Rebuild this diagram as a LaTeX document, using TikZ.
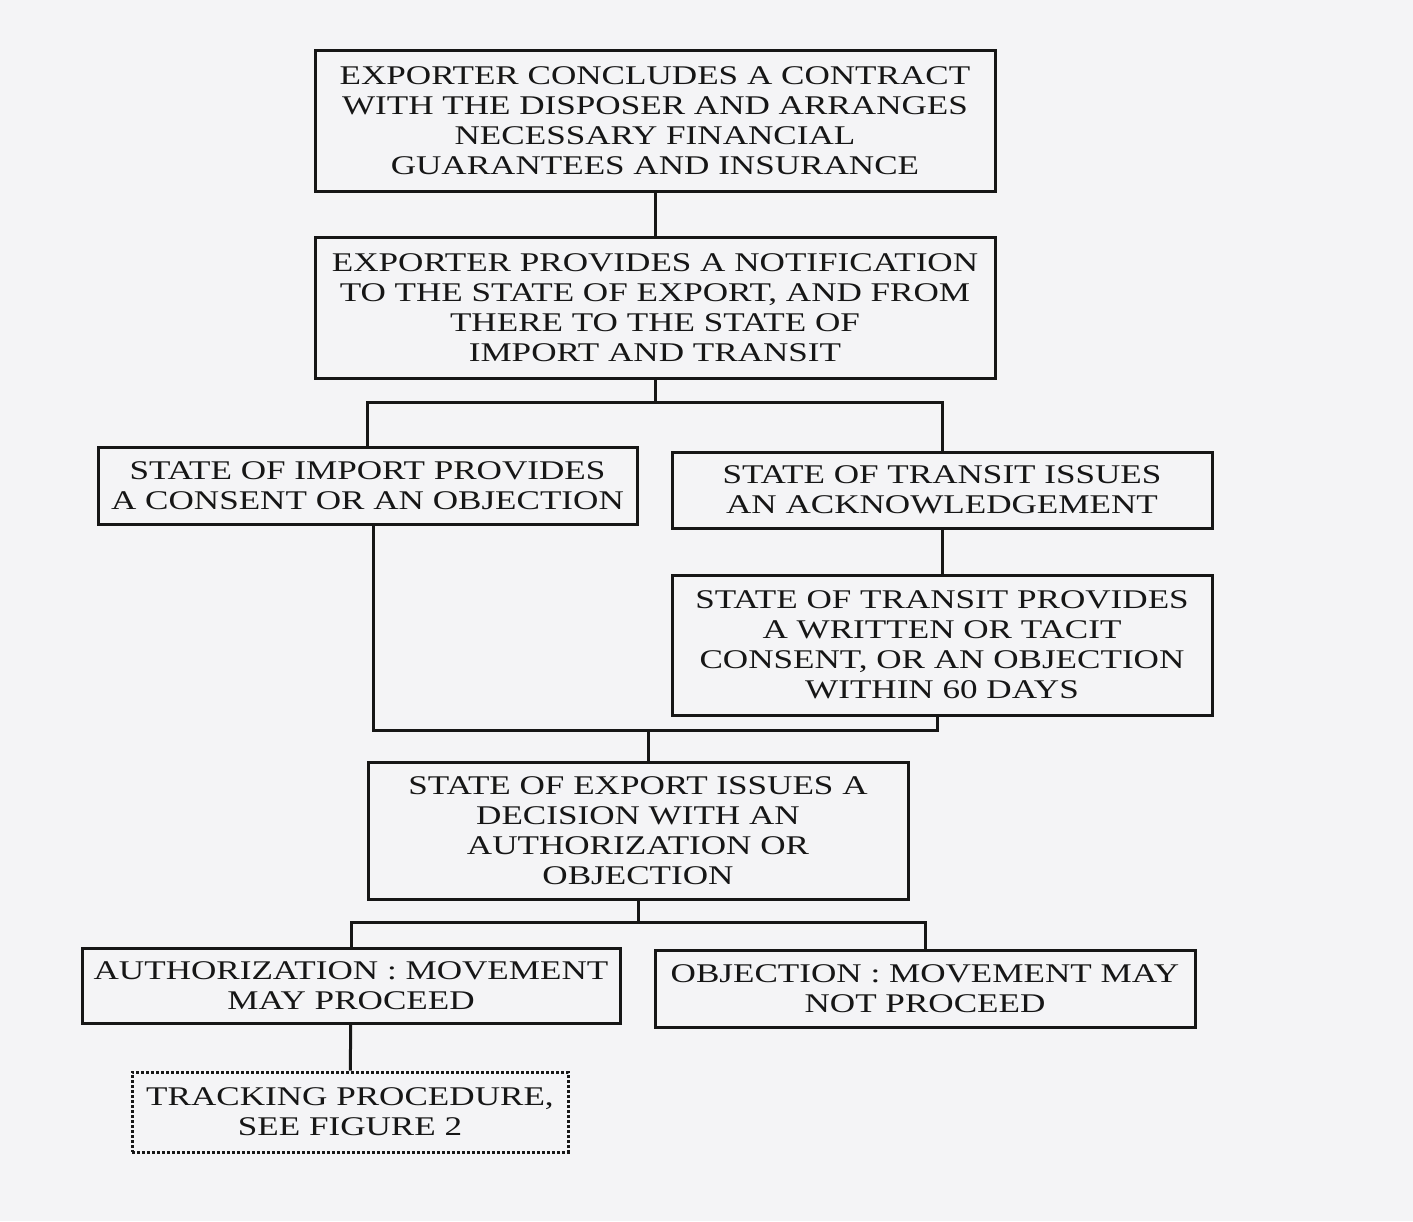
\documentclass[tikz,border=0pt]{standalone}
\usepackage{fontspec}
\setmainfont{Liberation Serif}[FakeStretch=1.3]
\definecolor{scanpaper}{RGB}{244,244,246}
\definecolor{scanink}{RGB}{22,22,22}
\begin{document}
\begin{tikzpicture}[x=0.5pt,y=-0.5pt]
                    \tikzset{every node/.style={font=\fontsize{13.5}{15}\selectfont, text=scanink}}
                    \tikzset{flowbox/.style={draw=scanink, line width=1.5pt, align=center, inner sep=0pt}}
                    \tikzset{flowline/.style={draw=scanink, line width=1.5pt}}
                    \fill[scanpaper] (0,0) rectangle (1413,1221);
                    \useasboundingbox (0,0) rectangle (1413,1221);
                    \node[flowbox, minimum width=340pt, minimum height=70.5pt] (contract) at (655,120.5)
                        {EXPORTER CONCLUDES A CONTRACT\\WITH THE DISPOSER AND ARRANGES\\NECESSARY FINANCIAL\\GUARANTEES AND INSURANCE};
                    \node[flowbox, minimum width=340pt, minimum height=70.5pt] (notify) at (655,307.5)
                        {EXPORTER PROVIDES A NOTIFICATION\\TO THE STATE OF EXPORT, AND FROM\\THERE TO THE STATE OF\\IMPORT AND TRANSIT};
                    \node[flowbox, minimum width=269.5pt, minimum height=38.5pt] (import) at (367.5,485.5)
                        {STATE OF IMPORT PROVIDES\\A CONSENT OR AN OBJECTION};
                    \node[flowbox, minimum width=270pt, minimum height=38pt] (transitack) at (942,490)
                        {STATE OF TRANSIT ISSUES\\AN ACKNOWLEDGEMENT};
                    \node[flowbox, minimum width=270pt, minimum height=70pt] (transitok) at (942,645)
                        {STATE OF TRANSIT PROVIDES\\A WRITTEN OR TACIT\\CONSENT, OR AN OBJECTION\\WITHIN 60 DAYS};
                    \node[flowbox, minimum width=270pt, minimum height=68.5pt] (decision) at (638,830.5)
                        {STATE OF EXPORT ISSUES A\\DECISION WITH AN\\AUTHORIZATION OR\\OBJECTION};
                    \node[flowbox, minimum width=269pt, minimum height=37.5pt] (authorize) at (351,985.5)
                        {AUTHORIZATION : MOVEMENT\\MAY PROCEED};
                    \node[flowbox, minimum width=270pt, minimum height=38.5pt] (object) at (925,988.5)
                        {OBJECTION : MOVEMENT MAY\\NOT PROCEED};
                    \node[flowbox, densely dotted, line width=1.5pt, minimum width=218pt, minimum height=40pt] (tracking) at (350,1112)
                        {TRACKING PROCEDURE,\\SEE FIGURE 2};
                    % joins
                    \coordinate (split) at (655,402);
                    \coordinate (merge) at (648,730);
                    \coordinate (result) at (638,922);
                    \draw[flowline] (contract) -- (notify);
                    \draw[flowline] (notify) -- (split);
                    \draw[flowline] (import.north) |- (split) -| (transitack.north);
                    \draw[flowline] (transitack) -- (transitok);
                    \draw[flowline] (import.south -| 373,0) |- (merge) -| (transitok.south -| 937,0);
                    \draw[flowline] (merge) -- (merge |- decision.north);
                    \draw[flowline] (decision) -- (result);
                    \draw[flowline] (authorize.north) |- (result) -| (object.north);
                    \draw[flowline] (authorize) -- (tracking);
                    \end{tikzpicture}
\end{document}
